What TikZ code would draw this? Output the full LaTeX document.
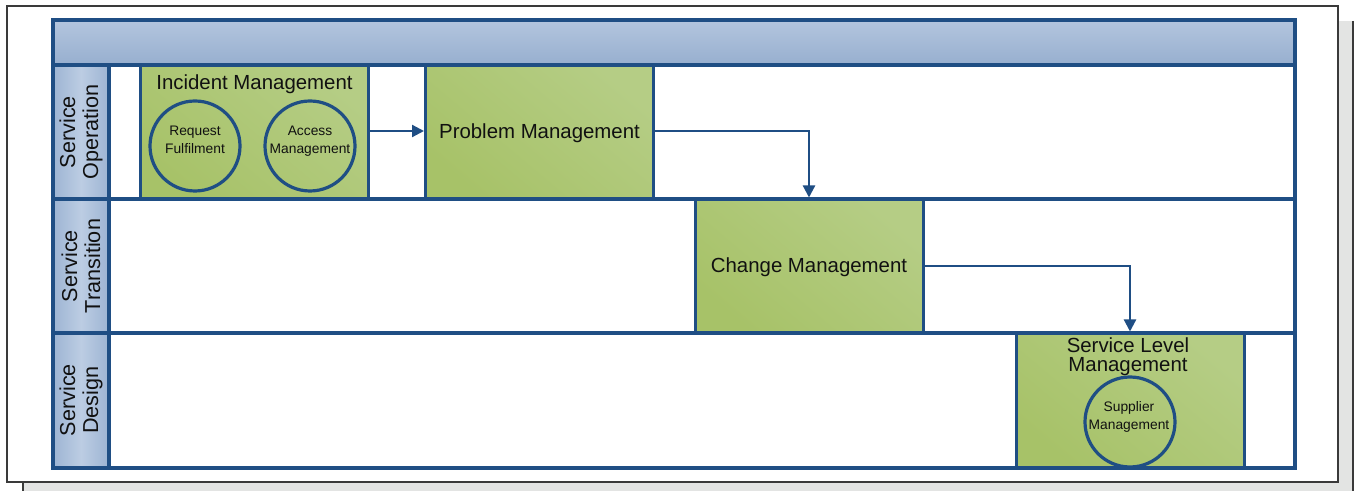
\documentclass[tikz,border=0pt]{standalone}
\usepackage{fontspec}
\setmainfont{Liberation Sans}
\usetikzlibrary{arrows.meta}
\definecolor{lineblue}{HTML}{1F4E84}
\definecolor{hdrtop}{HTML}{B3C5DE}
\definecolor{hdrbot}{HTML}{97AFCF}
\definecolor{lblD}{HTML}{9DB4D3}
\definecolor{lblL}{HTML}{BCCDE3}
\definecolor{greenL}{HTML}{B5CD85}
\definecolor{greenD}{HTML}{A7C268}
\definecolor{shadowgray}{HTML}{E3E4E3}
\definecolor{framegray}{HTML}{3A3A3A}
\definecolor{txt}{HTML}{111111}
\tikzset{
  procbox/.style={draw=lineblue, line width=1.5pt, top color=greenL, bottom color=greenD, shading angle=-40, inner sep=0pt, minimum width=114pt},
  subproc/.style={circle, draw=lineblue, line width=1.6pt, minimum size=45pt, inner sep=0pt},
  boxtitle/.style={text=txt, align=center, inner sep=0pt, font=\fontsize{10.2}{9.6}\selectfont},
  subtext/.style={text=txt, align=center, inner sep=0pt, font=\fontsize{6.9}{9}\selectfont},
  lanelbl/.style={text=txt, rotate=90, align=center, inner sep=0pt, font=\fontsize{10.8}{11.5}\selectfont},
  flow/.style={draw=lineblue, line width=1.1pt, -{Triangle[length=6pt,width=6pt]}},
  poolline/.style={draw=lineblue, line width=2pt}
}
\begin{document}
\begin{tikzpicture}[x=0.5pt,y=-0.5pt]
\useasboundingbox (0,0) rectangle (1356,491);
% page frame and shadow
\fill[shadowgray] (22,21) rectangle (1353,491);
\draw[framegray, line width=0.6pt] (23,21) -- (23,491);
\draw[framegray, line width=0.6pt] (1353,21) -- (1353,491);
\draw[fill=white, draw=framegray, line width=0.6pt] (7,6) rectangle (1338,482);
% pool backgrounds
\fill[white] (53,20) rectangle (1295,468);
\shade[top color=hdrtop, bottom color=hdrbot] (53,20) rectangle (1295,65);
\shade[left color=lblD, right color=lblD, middle color=lblL] (53,65) rectangle (109,468);
% process boxes
\node[procbox, minimum height=67pt] (incident) at (254.5,132) {};
\node[procbox, minimum height=67pt] (problem) at (539.5,132) {};
\node[procbox, minimum height=67pt] (change) at (809,266) {};
\node[procbox, minimum height=67.5pt] (slm) at (1130,400.5) {};
% pool lines
\draw[poolline] (53,20) rectangle (1295,468);
\draw[poolline] (53,65) -- (1295,65);
\draw[poolline] (53,199) -- (1295,199);
\draw[poolline] (53,333) -- (1295,333);
\draw[poolline] (109,65) -- (109,468);
% lane labels
\node[lanelbl] (lbl1) at (81,132) {Service\\Operation};
\node[lanelbl] (lbl2) at (81,266) {Service\\Transition};
\node[lanelbl] (lbl3) at (81,400) {Service\\Design};
% texts of boxes
\node[boxtitle] (incidentT) at (254.5,84) {Incident Management};
\node[boxtitle] (problemT) at (539.5,133) {Problem Management};
\node[boxtitle] (changeT) at (809,267) {Change Management};
\node[boxtitle] (slmT) at (1128,357) {Service Level\\Management};
% sub-processes
\node[subproc] (rf) at (195,146) {};
\node[subproc] (am) at (310,146) {};
\node[subproc] (sm) at (1130,422) {};
\node[subtext] (rfT) at (195,140) {Request\\Fulfilment};
\node[subtext] (amT) at (310,141) {Access\\Management};
\node[subtext] (smT) at (1129,416.5) {Supplier\\Management};
% connectors
\draw[flow] (incident.east |- 0,131) -- (problem.west |- 0,131);
\draw[flow] (problem.east |- 0,131) -| (change.north);
\draw[flow] (change.east) -| (slm.north);
\end{tikzpicture}
\end{document}
